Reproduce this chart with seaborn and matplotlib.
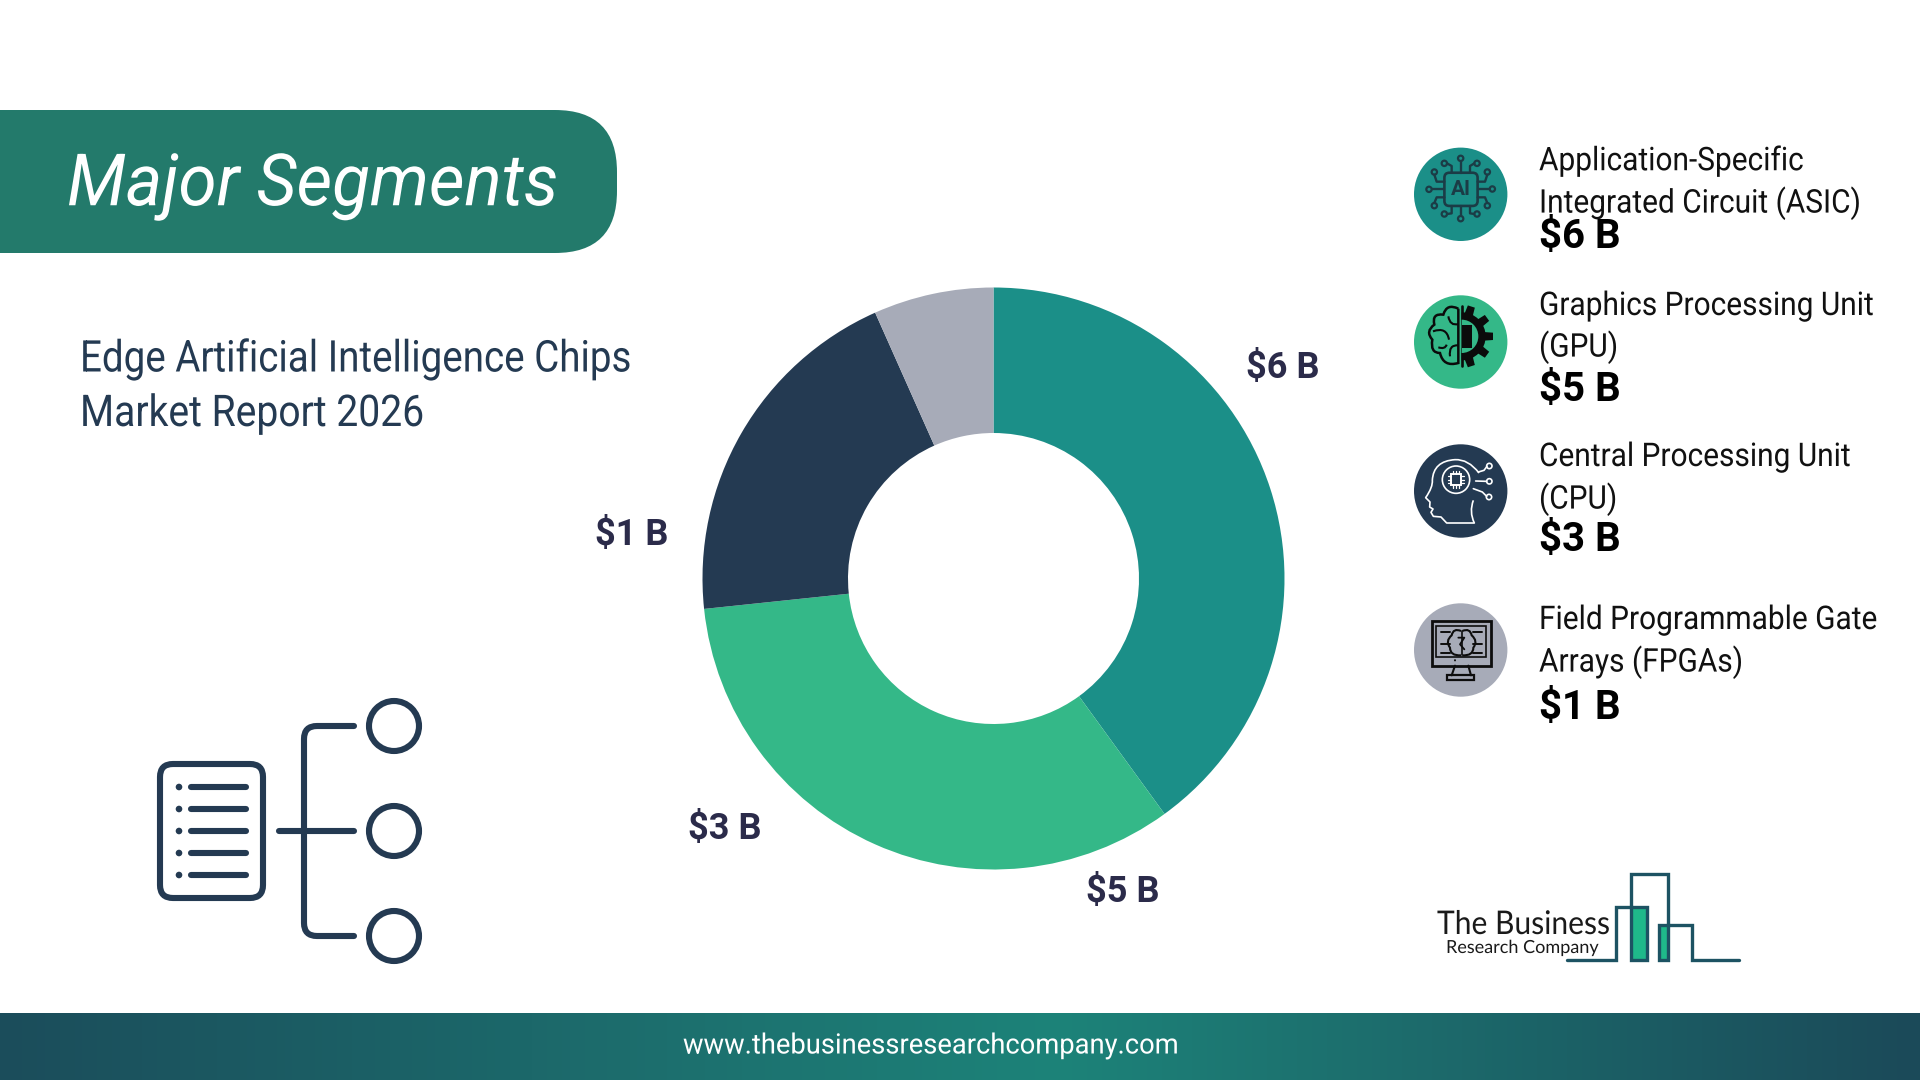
import numpy as np
import seaborn as sns
import matplotlib
matplotlib.use('Agg')
import matplotlib.pyplot as plt
from matplotlib.colors import LinearSegmentedColormap
from matplotlib.patches import Circle, FancyBboxPatch, PathPatch, Rectangle, Wedge
from matplotlib.path import Path
from matplotlib.patheffects import AbstractPathEffect
from matplotlib.transforms import Affine2D

# chart data
segments = ['Application-Specific\nIntegrated Circuit (ASIC)', 'Graphics Processing Unit\n(GPU)',
            'Central Processing Unit\n(CPU)', 'Field Programmable Gate\nArrays (FPGAs)']
slice_shares = [6, 5, 3, 1]
legend_values = ['$6 B', '$5 B', '$3 B', '$1 B']
# the picture labels the slices in this order, going round from the teal one
slice_labels = ['$6 B', '$5 B', '$3 B', '$1 B']
slice_colors = ['#1b8f88', '#34b888', '#243a52', '#a7abb8']

title = 'Major Segments'
subtitle = ['Edge Artificial Intelligence Chips', 'Market Report 2026']
url = 'www.thebusinessresearchcompany.com'

NAVY = '#243a52'
FONT = 'Roboto'

sns.set_theme(style='white')
plt.rcParams['font.family'] = [FONT, 'DejaVu Sans']


class Condense(AbstractPathEffect):
    # squeeze a text line sideways, the original is set with tight tracking
    def __init__(self, sx):
        super().__init__()
        self.sx = sx

    def draw_path(self, renderer, gc, tpath, affine, rgbFace=None):
        renderer.draw_path(gc, tpath, Affine2D().scale(self.sx, 1) + affine, rgbFace)


fig = plt.figure(figsize=(19.2, 10.8), dpi=100, facecolor='white')
bg = fig.add_axes([0, 0, 1, 1])
bg.set_xlim(0, 1920)
bg.set_ylim(1080, 0)
bg.axis('off')

# footer gradient
cmap = LinearSegmentedColormap.from_list('foot', [(0, '#1b4d5b'), (0.55, '#1d8379'), (1, '#1b4a59')])
grad = np.linspace(0, 1, 512).reshape(1, -1)
bg.imshow(grad, cmap=cmap, extent=(0, 1920, 1080, 1013), aspect='auto', zorder=1)
bg.set_xlim(0, 1920)
bg.set_ylim(1080, 0)
bg.text(683, 1046, url, color='white', fontsize=20.2, ha='left', va='center', zorder=3,
        path_effects=[Condense(0.975)])

# title banner, left corners run off the page
bg.add_patch(FancyBboxPatch((-80, 110), 697, 143, boxstyle='round,pad=0,rounding_size=62',
                            fc='#237a6b', ec='none', zorder=2))
bg.text(67, 187, title, color='white', fontsize=52, style='italic', ha='left', va='center', zorder=3,
        path_effects=[Condense(0.96)])

for line, y, sx in zip(subtitle, [359, 414], [0.881, 0.893]):
    bg.text(80, y, line, color=NAVY, fontsize=31.5, ha='left', va='center', path_effects=[Condense(sx)])

# donut
cx, cy, R = 993.5, 578.5, 291
pie_ax = fig.add_axes([(cx - 300) / 1920, (1080 - cy - 300) / 1080, 600 / 1920, 600 / 1080])
pie_ax.pie(slice_shares, colors=sns.color_palette(slice_colors), startangle=90, counterclock=False,
           radius=1, wedgeprops={'width': 0.5, 'linewidth': 0})
pie_ax.set_xlim(-300 / R, 300 / R)
pie_ax.set_ylim(-300 / R, 300 / R)

for lab, (lx, ly) in zip(slice_labels, [(1283, 368), (1123, 892), (725, 829), (632, 535)]):
    bg.text(lx, ly, lab, color='#2b2b4a', fontsize=26, fontweight='bold', ha='center', va='center')

# right hand legend
line_rows = [(161, 203, 237), (306, 347, 390), (457, 499, 540), (620, 662, 708)]
for seg, val, rows in zip(segments, legend_values, line_rows):
    first, second = seg.split('\n')
    bg.text(1539, rows[0], first, color='#111111', fontsize=23.5, ha='left', va='center', path_effects=[Condense(0.915)])
    bg.text(1539, rows[1], second, color='#111111', fontsize=23.5, ha='left', va='center', path_effects=[Condense(0.915)])
    bg.text(1539, rows[2], val, color='black', fontsize=29, fontweight='bold', ha='left', va='center')

icon_y = [194.3, 342, 491, 650]
for y, c in zip(icon_y, slice_colors):
    bg.add_patch(Circle((1460.7, y), 46.7, fc=c, ec='none', zorder=2))


def zp(x0, y0, pts):
    return [(x0 + x / 3, y0 + y / 3) for x, y in pts]


def stroke(x0, y0, pts, color, lw=1.6):
    p = np.array(zp(x0, y0, pts))
    bg.plot(p[:, 0], p[:, 1], color=color, lw=lw, solid_capstyle='round', solid_joinstyle='round', zorder=4)


def dot(x0, y0, x, y, r, color, fill='none', lw=1.5):
    bg.add_patch(Circle((x0 + x / 3, y0 + y / 3), r / 3, fc=fill, ec=color, lw=lw, zorder=4))


def curve(x0, y0, start, segs, color, lw=1.6, closed=False):
    verts = [start]
    codes = [Path.MOVETO]
    for ctrl, end in segs:
        verts += [ctrl, end]
        codes += [Path.CURVE3, Path.CURVE3]
    if closed:
        verts.append(start)
        codes.append(Path.LINETO)
    bg.add_patch(PathPatch(Path(zp(x0, y0, verts), codes), fc='none', ec=color, lw=lw, zorder=4))


def ai_icon(x0, y0):
    c = '#1b3c46'
    bg.add_patch(FancyBboxPatch((x0 + 126 / 3, y0 + 106 / 3), 84 / 3, 84 / 3, boxstyle='round,pad=2.6,rounding_size=5',
                                fc='none', ec=c, lw=1.9, zorder=4))
    bg.text(x0 + 167 / 3, y0 + 149 / 3, 'AI', color=c, fontsize=15, fontweight='bold', ha='center', va='center', zorder=4)
    traces = [
        [(167, 98), (167, 62)], [(167, 198), (167, 229)], [(118, 148), (80, 148)], [(218, 148), (254, 148)],
        [(140, 98), (140, 78), (126, 70)], [(195, 98), (195, 78), (208, 70)],
        [(140, 198), (140, 220), (126, 222)], [(195, 198), (195, 220), (208, 222)],
        [(118, 125), (95, 125), (88, 104)], [(118, 172), (95, 172), (88, 189)],
        [(218, 125), (240, 125), (247, 104)], [(218, 172), (240, 172), (247, 189)],
    ]
    for t in traces:
        stroke(x0, y0, t, c, 1.7)
    for x, y in [(167, 55), (167, 236), (72, 148), (262, 147), (118, 70), (216, 70), (118, 222), (216, 222),
                 (88, 96), (88, 197), (247, 96), (247, 197)]:
        dot(x0, y0, x, y, 8, c, lw=1.6)


def brain_icon(x0, y0):
    c = '#0b0b0b'
    gx, gy = x0 + 170 / 3, y0 + 145 / 3
    bg.add_patch(Wedge((gx, gy), 72 / 3, -90, 90, fc=c, ec='none', zorder=4))
    for a in [-72, -36, 0, 36, 72]:
        t = np.deg2rad(a)
        u, v = np.cos(t), np.sin(t)
        pts = np.array([(65, -13), (94, -11), (94, 11), (65, 13)]) / 3
        poly = [(gx + px * u - py * v, gy + px * v + py * u) for px, py in pts]
        bg.fill([q[0] for q in poly], [q[1] for q in poly], color=c, lw=0, zorder=4)
    bg.add_patch(Wedge((gx, gy), 50 / 3, -90, 90, fc='#34b888', ec='none', zorder=5))
    bg.add_patch(Rectangle((x0 + 172 / 3, y0 + 110 / 3), 28 / 3, 70 / 3, fc=c, ec='none', zorder=6))
    for y in [118, 130, 142, 154, 166]:
        stroke(x0, y0, [(200, y), (212, y)], c, 0.8)
    for x in [176, 186, 196]:
        stroke(x0, y0, [(x, 100), (x, 110)], c, 0.8)
        stroke(x0, y0, [(x, 180), (x, 190)], c, 0.8)
    stroke(x0, y0, [(170, 55), (170, 235)], c, 1.9)
    curve(x0, y0, (160, 62), [((125, 45), (115, 80)), ((80, 75), (88, 110)), ((60, 130), (82, 155)),
                              ((75, 195), (105, 195)), ((115, 238), (160, 225))], c, 1.8, closed=True)
    curve(x0, y0, (160, 108), [((135, 115), (130, 85))], c, 1.5)
    curve(x0, y0, (84, 130), [((125, 115), (132, 155))], c, 1.5)
    curve(x0, y0, (160, 172), [((130, 170), (135, 205))], c, 1.5)
    curve(x0, y0, (100, 178), [((120, 185), (125, 170))], c, 1.5)


def head_icon(x0, y0):
    c = 'white'
    curve(x0, y0, (222, 108), [((190, 66), (150, 68)), ((85, 72), (82, 130)), ((84, 150), (62, 182))], c, 1.2)
    stroke(x0, y0, [(62, 182), (75, 195), (74, 210), (84, 216), (78, 226), (85, 238), (108, 240), (125, 258), (208, 258)], c, 1.2)
    curve(x0, y0, (208, 258), [((192, 225), (205, 190))], c, 1.2)
    dot(x0, y0, 153, 128, 41, c, lw=1.2)
    bg.add_patch(Rectangle((x0 + 137 / 3, y0 + 112 / 3), 32 / 3, 32 / 3, fc='none', ec=c, lw=1.4, zorder=4))
    for d in [-10, 0, 10]:
        stroke(x0, y0, [(153 + d, 103), (153 + d, 112)], c, 0.9)
        stroke(x0, y0, [(153 + d, 144), (153 + d, 153)], c, 0.9)
        stroke(x0, y0, [(128, 128 + d), (137, 128 + d)], c, 0.9)
        stroke(x0, y0, [(169, 128 + d), (178, 128 + d)], c, 0.9)
    stroke(x0, y0, [(220, 105), (237, 100), (246, 88)], c, 1.2)
    stroke(x0, y0, [(212, 132), (245, 133)], c, 1.2)
    stroke(x0, y0, [(205, 155), (232, 165), (245, 178)], c, 1.2)
    for x, y in [(253, 87), (253, 133), (252, 180)]:
        dot(x0, y0, x, y, 8, c, lw=1.2)


def monitor_icon(x0, y0):
    c = '#0d0d0d'
    bg.add_patch(Rectangle((x0 + 80 / 3, y0 + 76 / 3), 178 / 3, 133 / 3, fc='none', ec=c, lw=2, zorder=4))
    bg.add_patch(Rectangle((x0 + 94 / 3, y0 + 90 / 3), 150 / 3, 94 / 3, fc='none', ec=c, lw=1.2, zorder=4))
    stroke(x0, y0, [(150, 209), (140, 238)], c, 1.5)
    stroke(x0, y0, [(190, 209), (198, 238)], c, 1.5)
    bg.add_patch(Rectangle((x0 + 127 / 3, y0 + 238 / 3), 80 / 3, 14 / 3, fc='none', ec=c, lw=1.6, zorder=4))
    curve(x0, y0, (168, 105), [((145, 95), (140, 118)), ((120, 135), (135, 155)),
                               ((135, 180), (168, 178))], c, 1.5)
    curve(x0, y0, (172, 105), [((195, 95), (200, 118)), ((220, 135), (205, 155)),
                               ((205, 180), (172, 178))], c, 1.5)
    stroke(x0, y0, [(170, 105), (170, 178)], c, 1.2)
    stroke(x0, y0, [(160, 125), (178, 125), (165, 145), (178, 160)], c, 1.3)
    for y in [108, 145, 172]:
        stroke(x0, y0, [(108, y), (135, y)], c, 1.4)
        stroke(x0, y0, [(205, y), (232, y)], c, 1.4)
    dot(x0, y0, 150, 193, 2, c, fill=c, lw=0.5)


ai_icon(1405, 140)
brain_icon(1405, 288)
head_icon(1405, 437)
monitor_icon(1405, 596)

# hierarchy icon, bottom left
bg.add_patch(FancyBboxPatch((173, 777), 77, 108, boxstyle='round,pad=13,rounding_size=13', fc='none', ec=NAVY, lw=4.4))
for y in [787, 809, 831, 853, 875]:
    bg.add_patch(Circle((179, y), 3.3, fc=NAVY, ec='none'))
    bg.plot([191, 246], [y, y], color=NAVY, lw=4.4, solid_capstyle='round')
bg.add_patch(PathPatch(Path([(354, 726), (317, 726), (304, 726), (304, 739), (304, 923), (304, 936), (317, 936), (354, 936)],
                            [Path.MOVETO, Path.LINETO, Path.CURVE3, Path.CURVE3, Path.LINETO, Path.CURVE3, Path.CURVE3, Path.LINETO]),
                       fc='none', ec=NAVY, lw=4.4, capstyle='round'))
bg.plot([279, 354], [831, 831], color=NAVY, lw=4.4, solid_capstyle='round')
for y in [726, 831, 936]:
    bg.add_patch(Circle((394, y), 25, fc='none', ec=NAVY, lw=4.4))

# company logo
bg.add_patch(Rectangle((1632, 907), 16, 53, fc='#1fb98a', ec='none'))
bg.add_patch(Rectangle((1660, 925), 9, 35, fc='#1fb98a', ec='none'))
outline = [(1567, 960), (1616, 960), (1616, 907), (1647, 907), (1647, 960), (1631, 960), (1631, 874), (1668, 874),
           (1668, 960), (1659, 960), (1659, 925), (1692, 925), (1692, 960), (1739, 960)]
bg.plot([p[0] for p in outline], [p[1] for p in outline], color='#1d5363', lw=2.4, solid_joinstyle='miter')
bg.text(1437, 925, 'The Business', color='#1a1a1a', fontsize=23.5, family='Lato', ha='left', va='center',
        path_effects=[Condense(0.92)])
bg.text(1446, 948, 'Research Company', color='#1a1a1a', fontsize=13, family='Lato', ha='left', va='center',
        path_effects=[Condense(1.0)])

fig.savefig('out.png', dpi=100)
